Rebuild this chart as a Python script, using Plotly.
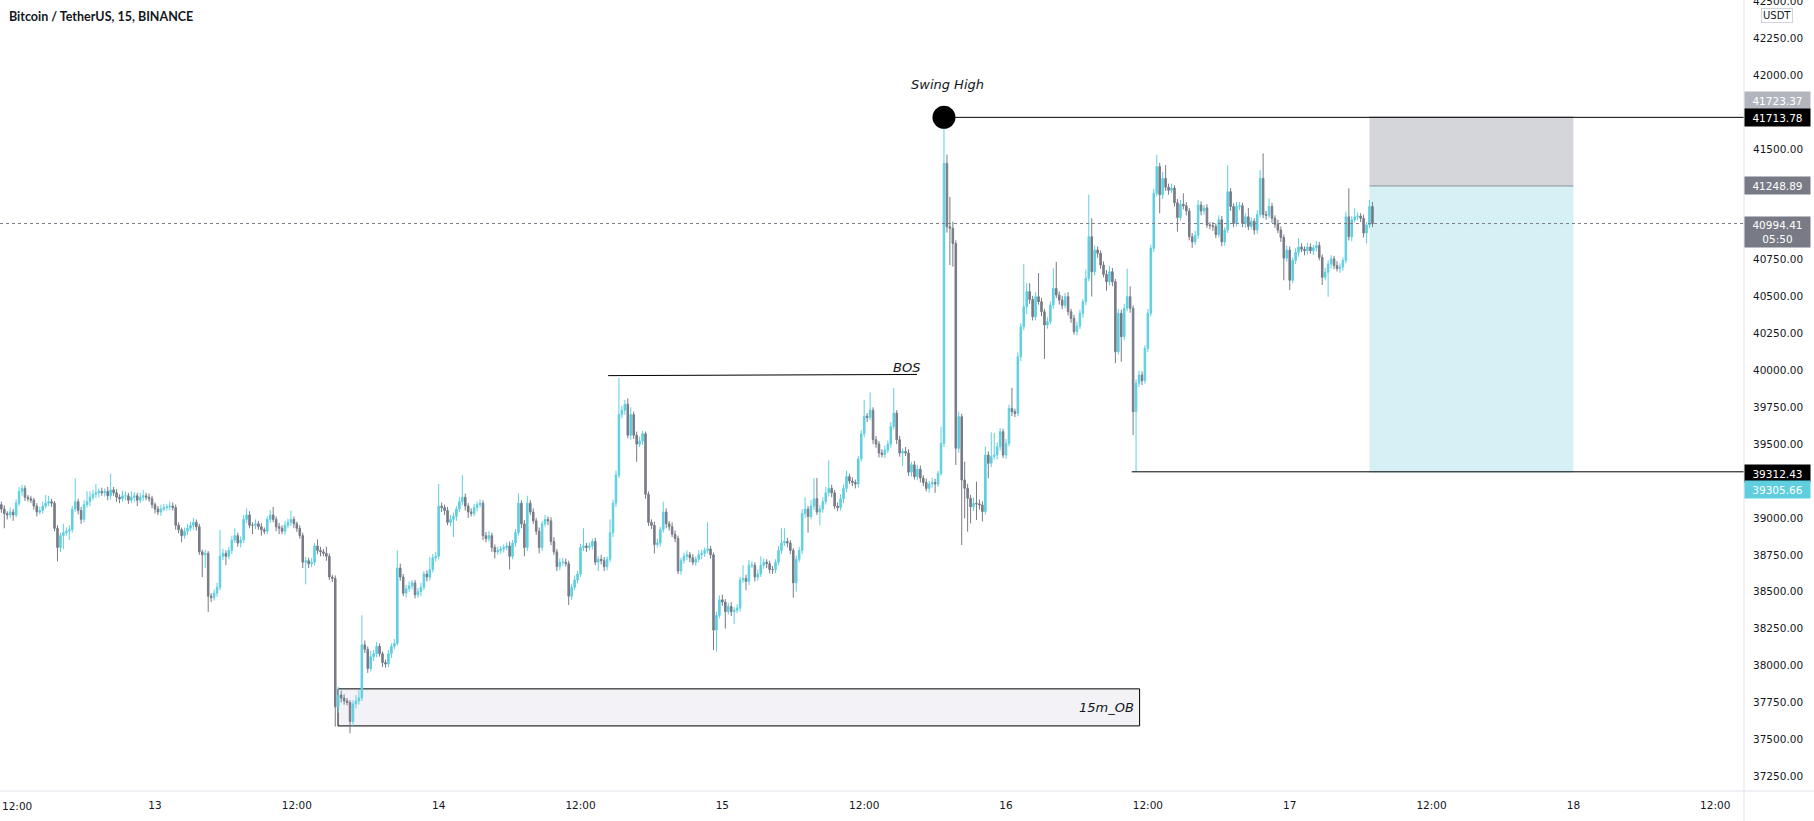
import plotly.graph_objects as go
import pandas as pd

# ---------------- data (15-minute candles, BTC/USDT) ----------------
start_time = "2022-03-12 11:00"
first_open = 39090

closes = [
    39060, 39030, 39020, 39040, 39020, 39100, 39180, 39200, 39140, 39130,
    39120, 39080, 39040, 39050, 39080, 39100, 39110, 39100, 38930, 38800,
    38880, 38900, 38910, 38920, 39060, 39110, 39050, 38990, 39090, 39110,
    39140, 39160, 39170, 39180, 39170, 39180, 39150, 39190, 39170, 39140,
    39130, 39150, 39150, 39120, 39140, 39150, 39120, 39140, 39150, 39140,
    39130, 39090, 39060, 39040, 39060, 39070, 39075, 39080, 39070, 38950,
    38920, 38880, 38910, 38930, 38950, 38970, 38940, 38770, 38750, 38760,
    38470, 38460, 38490, 38530, 38740, 38760, 38740, 38780, 38850, 38880,
    38830, 38850, 38990, 39020, 38950, 38950, 38960, 38940, 38920, 38910,
    38990, 39020, 38990, 38940, 38930, 38910, 38950, 38970, 38990, 38960,
    38930, 38880, 38700, 38710, 38690, 38700, 38810, 38780, 38770, 38760,
    38740, 38600, 38590, 37720, 37800, 37780, 37760, 37750, 37620, 37740,
    37760, 37780, 38140, 38110, 37980, 38060, 38080, 38130, 38080, 38020,
    38010, 38080, 38130, 38150, 38660, 38600, 38490, 38520, 38540, 38560,
    38480, 38500, 38530, 38620, 38600, 38650, 38730, 38740, 39080, 39070,
    39050, 38970, 38990, 39010, 39060, 39110, 39140, 39080, 39040, 39030,
    39070, 39090, 39100, 38880, 38860, 38880, 38800, 38770, 38780, 38790,
    38800, 38810, 38740, 38830, 38900, 39100, 38960, 38800, 39100, 39040,
    38980, 38910, 38800, 38960, 38990, 38980, 38840, 38770, 38670, 38700,
    38700, 38690, 38470, 38530, 38580, 38620, 38800, 38810, 38800, 38810,
    38840, 38700, 38720, 38710, 38670, 38720, 38900, 39100, 39290, 39700,
    39730, 39770, 39560, 39700, 39560, 39500, 39520, 39570, 39160, 38970,
    38950, 38820, 38830, 38920, 39040, 38960, 38940, 38890, 38860, 38640,
    38710, 38740, 38750, 38730, 38700, 38720, 38750, 38760, 38780, 38790,
    38750, 38240, 38340, 38445, 38430, 38365, 38400, 38365, 38375, 38390,
    38580, 38590, 38570, 38680, 38680, 38600, 38620, 38680, 38700, 38690,
    38650, 38650, 38700, 38780, 38830, 38840, 38830, 38780, 38560, 38720,
    38780, 39030, 39060, 39010, 39080, 39130, 39040, 39060, 39110, 39170,
    39200, 39170, 39080, 39070, 39130, 39200, 39280, 39250, 39240, 39230,
    39400, 39570, 39690, 39680, 39730, 39530, 39500, 39440, 39430, 39460,
    39500, 39620, 39710, 39530, 39440, 39450, 39440, 39310, 39360, 39280,
    39330, 39270, 39240, 39200, 39230, 39240, 39230, 39300, 39505, 41402,
    40973, 40962, 40860, 39472, 39686, 39257, 39201, 39133, 39076, 39099,
    39095, 39088, 39043, 39426, 39370, 39415, 39426, 39482, 39584, 39426,
    39505, 39742, 39720, 39708, 40092, 40296, 40431, 40533, 40480, 40363,
    40499, 40465, 40397, 40307, 40330, 40442, 40555, 40510, 40476, 40440,
    40499, 40397, 40352, 40262, 40300, 40386, 40465, 40623, 40905, 40668,
    40815, 40793, 40713, 40650, 40600, 40668, 40600, 40126, 40386, 40228,
    40420, 40499, 40420, 39720, 39912, 39968, 39930, 40149, 40386, 40827,
    41199, 41380, 41190, 41300, 41240, 41220, 41235, 41135, 41035, 41125,
    41115, 41080, 40905, 40870, 40915, 41120, 41080, 41100, 40985, 40980,
    40975, 40920, 41020, 40870, 40950, 41210, 41110, 40995, 41110, 41115,
    40995, 41040, 40975, 41010, 40950, 41055, 41300, 41055, 41050, 41110,
    41030, 40990, 40950, 40900, 40760, 40815, 40610, 40745, 40800, 40835,
    40820, 40810, 40835, 40810, 40830, 40845, 40765, 40630, 40665, 40720,
    40755, 40710, 40690, 40700, 40745, 41040, 40905, 41020, 41040, 41045,
    41030, 40930, 40985, 41110, 40994.41,
]

wick_up = [
    20, 25, 15, 30, 20, 25, 30, 25, 20, 15,
    20, 15, 20, 25, 30, 55, 40, 20, 15, 20,
    20, 60, 25, 30, 20, 158, 20, 25, 30, 70,
    40, 30, 60, 20, 25, 20, 30, 110, 20, 25,
    20, 35, 30, 20, 40, 25, 20, 30, 40, 20,
    25, 20, 15, 20, 30, 25, 20, 30, 25, 20,
    20, 15, 25, 30, 25, 30, 20, 20, 15, 25,
    15, 20, 25, 30, 180, 30, 20, 25, 30, 50,
    20, 25, 30, 45, 25, 20, 30, 20, 25, 15,
    20, 33, 55, 20, 25, 20, 30, 25, 60, 20,
    15, 20, 20, 25, 20, 30, 20, 45, 25, 20,
    45, 20, 15, 20, 57, 30, 25, 20, 15, 25,
    40, 55, 200, 30, 20, 40, 25, 30, 20, 15,
    20, 25, 20, 30, 120, 30, 20, 25, 30, 20,
    20, 25, 30, 20, 25, 85, 25, 30, 150, 25,
    20, 25, 30, 25, 20, 30, 150, 25, 20, 25,
    25, 20, 25, 20, 25, 30, 20, 20, 25, 20,
    20, 25, 30, 20, 25, 67, 20, 25, 50, 20,
    25, 20, 25, 20, 30, 20, 25, 30, 20, 25,
    30, 25, 20, 25, 30, 20, 25, 120, 20, 25,
    20, 25, 20, 30, 25, 20, 90, 25, 30, 250,
    30, 30, 40, 50, 20, 25, 30, 20, 15, 20,
    20, 25, 30, 20, 70, 25, 20, 30, 25, 20,
    20, 25, 30, 20, 25, 20, 30, 25, 20, 180,
    20, 15, 25, 30, 35, 20, 25, 30, 20, 25,
    20, 90, 25, 35, 25, 20, 30, 60, 25, 20,
    20, 25, 20, 30, 100, 90, 25, 20, 15, 25,
    25, 30, 80, 20, 40, 140, 140, 25, 30, 40,
    190, 25, 20, 25, 30, 25, 40, 20, 25, 20,
    20, 25, 110, 20, 120, 20, 25, 20, 25, 30,
    25, 30, 170, 20, 25, 20, 30, 25, 20, 25,
    30, 25, 20, 25, 20, 30, 25, 20, 113, 311.78,
    60, 202, 45, 20, 34, 20, 124, 30, 25, 40,
    147, 30, 25, 57, 25, 165, 150, 30, 25, 20,
    30, 25, 140, 20, 30, 25, 290, 57, 57, 25,
    30, 160, 25, 20, 30, 25, 136, 180, 25, 30,
    25, 30, 20, 25, 30, 25, 20, 60, 285, 125,
    30, 25, 20, 25, 30, 40, 25, 20, 30, 25,
    30, 190, 70, 20, 25, 30, 25, 20, 30, 25,
    30, 80, 25, 45, 90, 25, 30, 20, 25, 30,
    75, 25, 20, 25, 30, 35, 25, 20, 25, 20,
    25, 20, 30, 25, 20, 180, 25, 20, 30, 25,
    20, 25, 60, 25, 20, 30, 57, 170, 25, 55,
    25, 20, 30, 25, 20, 30, 25, 20, 30, 60,
    25, 20, 30, 25, 20, 30, 25, 20, 30, 25,
    25, 20, 30, 25, 20, 35, 193, 25, 57, 25,
    20, 25, 20, 44, 30,
]

wick_dn = [
    25, 100, 30, 20, 40, 15, 20, 30, 25, 20,
    20, 25, 30, 15, 20, 15, 20, 25, 20, 95,
    30, 90, 20, 60, 20, 20, 25, 30, 20, 20,
    30, 20, 25, 30, 20, 25, 30, 25, 20, 30,
    30, 20, 30, 25, 20, 30, 40, 20, 25, 20,
    20, 25, 30, 20, 25, 15, 20, 25, 20, 30,
    25, 45, 20, 25, 20, 30, 25, 20, 150, 90,
    106, 30, 20, 25, 20, 25, 60, 20, 25, 20,
    25, 30, 20, 25, 20, 60, 25, 20, 40, 20,
    20, 25, 20, 30, 40, 20, 25, 20, 25, 30,
    25, 20, 40, 150, 30, 25, 20, 25, 30, 20,
    30, 20, 25, 134, 40, 30, 25, 20, 79, 30,
    30, 25, 20, 25, 30, 20, 30, 25, 20, 30,
    25, 20, 30, 20, 15, 25, 20, 30, 20, 25,
    25, 20, 30, 20, 30, 25, 20, 25, 20, 30,
    30, 20, 25, 120, 30, 20, 25, 30, 40, 20,
    20, 25, 20, 30, 25, 20, 30, 45, 20, 25,
    25, 20, 90, 20, 25, 20, 30, 60, 25, 20,
    20, 25, 40, 25, 20, 30, 25, 20, 30, 25,
    25, 20, 60, 25, 20, 25, 20, 25, 30, 20,
    25, 20, 60, 25, 30, 25, 20, 30, 25, 20,
    25, 30, 20, 30, 25, 120, 20, 25, 30, 25,
    25, 60, 20, 25, 20, 30, 25, 20, 25, 20,
    25, 20, 25, 30, 20, 25, 20, 30, 25, 20,
    25, 135, 145, 20, 25, 115, 20, 30, 85, 20,
    25, 20, 60, 25, 20, 30, 25, 20, 25, 30,
    25, 30, 25, 20, 25, 20, 30, 25, 100, 60,
    20, 25, 30, 110, 20, 25, 20, 90, 25, 20,
    25, 30, 20, 25, 20, 30, 25, 20, 25, 30,
    25, 20, 25, 30, 20, 30, 25, 30, 20, 25,
    20, 25, 20, 30, 25, 90, 20, 25, 30, 20,
    25, 30, 25, 20, 30, 25, 60, 20, 15, 25,
    40, 249, 158, 113, 30, 440, 204, 226, 113, 30,
    109, 30, 68, 20, 102, 25, 20, 30, 25, 20,
    25, 20, 30, 25, 20, 30, 25, 50, 30, 25,
    25, 20, 30, 230, 25, 20, 25, 20, 30, 25,
    20, 25, 30, 20, 25, 20, 30, 25, 20, 168,
    25, 30, 25, 20, 60, 25, 30, 78, 20, 170,
    25, 20, 30, 158, 407.57, 25, 30, 20, 25, 20,
    25, 20, 127, 30, 25, 30, 20, 25, 96, 20,
    25, 30, 25, 40, 20, 25, 30, 25, 20, 25,
    30, 25, 20, 30, 25, 20, 30, 25, 20, 25,
    25, 30, 25, 20, 30, 25, 20, 25, 30, 20,
    30, 25, 20, 30, 150, 25, 66, 20, 25, 30,
    20, 30, 25, 20, 30, 25, 20, 52, 20, 166,
    30, 25, 20, 30, 25, 20, 25, 30, 20, 25,
    25, 30, 70, 20, 25,
]

price_ticks = [37250, 37500, 37750, 38000, 38250, 38500, 38750, 39000,
               39500, 39750, 40000, 40250, 40500, 40750, 41500, 42000, 42250, 42500]
time_ticks = ["2022-03-12 12:00", "2022-03-13 00:00", "2022-03-13 12:00", "2022-03-14 00:00",
              "2022-03-14 12:00", "2022-03-15 00:00", "2022-03-15 12:00", "2022-03-16 00:00",
              "2022-03-16 12:00", "2022-03-17 00:00", "2022-03-17 12:00", "2022-03-18 00:00",
              "2022-03-18 12:00"]
time_tick_labels = ["12:00", "13", "12:00", "14", "12:00", "15", "12:00", "16",
                    "12:00", "17", "12:00", "18", "12:00"]

swing_high = 41713.78
stop_level = 41723.37
entry_level = 41248.89
target_level = 39305.66
low_level = 39312.43
last_price = 40994.41
bos_level = 39968
ob_top, ob_bottom = 37842, 37591

# ---------------- derived OHLC ----------------
assert len(closes) == len(wick_up) == len(wick_dn)
opens = [first_open] + closes[:-1]
highs = [max(o, c) + u for o, c, u in zip(opens, closes, wick_up)]
lows = [min(o, c) - d for o, c, d in zip(opens, closes, wick_dn)]
times = pd.date_range(start_time, periods=len(closes), freq="15min")

UP = "#5fcfe0"
DOWN = "#787b86"
TXT = "#131722"
AX_FONT = dict(family="DejaVu Sans", size=10.5, color=TXT)

fig = go.Figure()
fig.add_trace(go.Candlestick(
    x=times, open=opens, high=highs, low=lows, close=closes,
    increasing=dict(line=dict(color=UP, width=1), fillcolor=UP),
    decreasing=dict(line=dict(color=DOWN, width=1), fillcolor=DOWN),
    whiskerwidth=0, hoverinfo="skip", showlegend=False,
))

# swing high marker
fig.add_trace(go.Scatter(
    x=["2022-03-15 18:45"], y=[swing_high], mode="markers",
    marker=dict(size=23, color="black"), hoverinfo="skip", showlegend=False,
))

shapes = [
    # order block
    dict(type="rect", xref="x", yref="y", x0="2022-03-13 15:29", x1="2022-03-16 11:18",
         y0=ob_bottom, y1=ob_top, fillcolor="#f3f3f7", line=dict(color="black", width=1),
         layer="below"),
    # short position: stop zone
    dict(type="rect", xref="x", yref="y", x0="2022-03-17 06:45", x1="2022-03-18 00:00",
         y0=entry_level, y1=stop_level, fillcolor="#d5d6da", line=dict(width=0), layer="below"),
    # short position: target zone
    dict(type="rect", xref="x", yref="y", x0="2022-03-17 06:45", x1="2022-03-18 00:00",
         y0=target_level, y1=entry_level, fillcolor="#d5f1f6", line=dict(width=0), layer="below"),
    dict(type="line", xref="x", yref="y", x0="2022-03-17 06:45", x1="2022-03-18 00:00",
         y0=entry_level, y1=entry_level, line=dict(color="#8d909a", width=1)),
    # swing high line
    dict(type="line", xref="x", yref="y", x0="2022-03-15 18:45", x1="2022-03-19 12:00",
         y0=swing_high, y1=swing_high, line=dict(color="black", width=1)),
    # low line
    dict(type="line", xref="x", yref="y", x0="2022-03-16 10:38", x1="2022-03-19 12:00",
         y0=low_level, y1=low_level, line=dict(color="black", width=1)),
    # BOS line
    dict(type="line", xref="x", yref="y", x0="2022-03-14 14:20", x1="2022-03-15 16:28",
         y0=bos_level - 4, y1=bos_level + 4, line=dict(color="black", width=1)),
    # current price dotted line
    dict(type="line", xref="paper", yref="y", x0=0, x1=1, y0=last_price, y1=last_price,
         line=dict(color="#787b86", width=1, dash="dot")),
    # axis separators
    dict(type="line", xref="paper", yref="paper", x0=1, x1=1, y0=-0.2, y1=1,
         line=dict(color="#e0e3eb", width=1)),
    dict(type="line", xref="paper", yref="paper", x0=0, x1=1.1, y0=0, y1=0,
         line=dict(color="#e0e3eb", width=1)),
]

annotations = [
    dict(text="Bitcoin / TetherUS, 15, BINANCE", xref="paper", yref="paper", x=0, y=1,
         xanchor="left", yanchor="middle", xshift=7, yshift=-16, showarrow=False,
         font=dict(family="Lato", size=12.5, color=TXT, weight=700)),
    dict(text="<i>Swing High</i>", xref="x", yref="y", x="2022-03-15 19:05", y=41936,
         showarrow=False, font=dict(family="DejaVu Sans", size=13, color=TXT)),
    dict(text="<i>BOS</i>", xref="x", yref="y", x="2022-03-15 16:28", y=40019,
         xanchor="right", xshift=5, showarrow=False,
         font=dict(family="DejaVu Sans", size=13, color=TXT)),
    dict(text="<i>15m_OB</i>", xref="x", yref="y", x="2022-03-16 11:18", y=(ob_top + ob_bottom) / 2,
         xanchor="right", xshift=-4, showarrow=False,
         font=dict(family="DejaVu Sans", size=13, color=TXT)),
    dict(text="USDT", xref="paper", yref="paper", x=1, y=1, xanchor="left", yanchor="middle",
         xshift=17, yshift=-15, showarrow=False, bgcolor="white", bordercolor="#d1d4dc",
         borderwidth=1, borderpad=1, font=dict(family="DejaVu Sans", size=10, color=TXT)),
    # edge tick labels that the axis drops because they overflow the page
    dict(text="12:00", xref="paper", yref="paper", x=0, y=0, xanchor="left", yanchor="middle",
         yshift=-15, showarrow=False, font=AX_FONT),
    dict(text="42500.00", xref="paper", yref="y", x=1, y=42500, xanchor="left",
         yanchor="middle", xshift=7, showarrow=False, font=AX_FONT),
]

price_labels = [
    (stop_level, f"{stop_level:.2f}", "#b2b5be", 15, 13),
    (swing_high, f"{swing_high:.2f}", "#000000", 0, 13),
    (entry_level, f"{entry_level:.2f}", "#787b86", 0, 13),
    (last_price, f"{last_price:.2f}<br>05:50", "#787b86", -8, 26),
    (low_level, f"{low_level:.2f}", "#000000", -2, 13),
    (target_level, f"{target_level:.2f}", UP, -17, 13),
]
for val, txt, bg, ysh, h in price_labels:
    annotations.append(dict(
        text=txt, xref="paper", yref="y", x=1, y=val, xanchor="left", yanchor="middle",
        yshift=ysh, showarrow=False, bgcolor=bg, width=61, height=h, borderpad=2,
        align="center", font=dict(family="DejaVu Sans", size=10.5, color="white"),
    ))

fig.update_layout(
    width=1814, height=821,
    margin=dict(l=0, r=70, t=0, b=30),
    paper_bgcolor="white", plot_bgcolor="white",
    showlegend=False, boxgap=0.25,
    shapes=shapes, annotations=annotations,
    xaxis=dict(
        type="date", range=["2022-03-12 10:53:13", "2022-03-18 14:26:00"],
        rangeslider=dict(visible=False), showgrid=False, zeroline=False,
        tickvals=time_ticks[1:], ticktext=time_tick_labels[1:], ticks="",
        tickfont=AX_FONT, showline=False, ticklabelstandoff=6,
    ),
    yaxis=dict(
        side="right", range=[37150, 42508.8], showgrid=False, zeroline=False,
        tickvals=price_ticks[:-1], ticktext=[f"{v:.2f}" for v in price_ticks[:-1]], ticks="",
        tickfont=AX_FONT, showline=False, ticklabelstandoff=8,
    ),
)

fig.write_html("out.html")
